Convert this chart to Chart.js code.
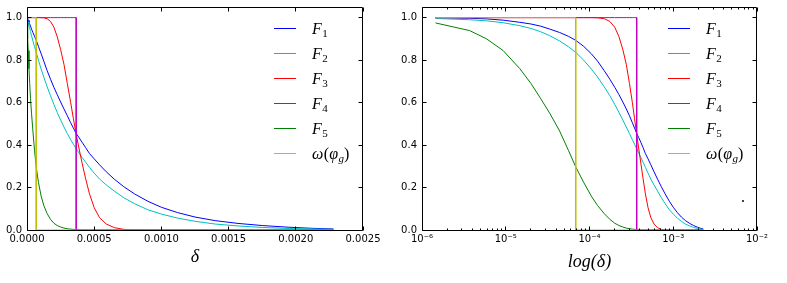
<!DOCTYPE html>
<html><head><meta charset="utf-8">
<script src="https://cdn.jsdelivr.net/npm/chart.js@4/dist/chart.umd.min.js"></script>
<style>
html,body{margin:0;padding:0;background:#fff;width:787px;height:283px;overflow:hidden}
canvas{position:absolute;top:0}
#c1{left:0}
#c2{left:380px}
</style></head><body>
<canvas id="c1" width="380" height="283"></canvas>
<canvas id="c2" width="407" height="283"></canvas>
<script>
// ---- data ----
const delta = [1.45e-6, 3.7e-6, 5.9e-6, 9.3e-6, 1.47e-5, 2.0e-5, 2.6e-5, 3.35e-5, 4.4e-5, 5.6e-5,
  6.85e-5, 6.85e-5, 8.5e-5, 1.05e-4, 1.25e-4, 1.5e-4, 1.75e-4, 2.0e-4, 2.25e-4, 2.5e-4,
  2.75e-4, 3.0e-4, 3.25e-4, 3.45e-4, 3.66e-4, 3.66e-4, 3.85e-4, 4.1e-4, 4.35e-4, 4.65e-4,
  5.0e-4, 5.4e-4, 5.9e-4, 6.5e-4, 7.2e-4, 8.0e-4, 9.0e-4, 1.0e-3, 1.12e-3, 1.25e-3,
  1.4e-3, 1.57e-3, 1.75e-3, 1.95e-3, 2.12e-3, 2.28e-3];
const F1 = [0.999, 0.997, 0.994, 0.988, 0.978, 0.970, 0.960, 0.946, 0.930, 0.912,
  0.893, 0.893, 0.865, 0.830, 0.795, 0.750, 0.710, 0.672, 0.637, 0.603,
  0.570, 0.538, 0.505, 0.480, 0.455, 0.455, 0.437, 0.413, 0.389, 0.360,
  0.335, 0.307, 0.274, 0.239, 0.204, 0.170, 0.135, 0.107, 0.082, 0.061,
  0.044, 0.031, 0.021, 0.013, 0.008, 0.005];
const F2 = [0.996, 0.990, 0.985, 0.976, 0.962, 0.949, 0.934, 0.915, 0.890, 0.863,
  0.836, 0.836, 0.800, 0.758, 0.720, 0.674, 0.632, 0.592, 0.553, 0.518,
  0.485, 0.454, 0.425, 0.404, 0.383, 0.383, 0.364, 0.342, 0.320, 0.295,
  0.268, 0.240, 0.212, 0.183, 0.152, 0.124, 0.095, 0.075, 0.056, 0.041,
  0.028, 0.019, 0.012, 0.007, 0.005, 0.003];
const F3 = [1, 1, 1, 1, 1, 1, 1, 1, 1, 1,
  1, 1, 1, 1, 0.999, 0.995, 0.982, 0.955, 0.910, 0.850,
  0.780, 0.690, 0.600, 0.525, 0.450, 0.450, 0.390, 0.315, 0.245, 0.170,
  0.105, 0.058, 0.028, 0.011, 0.003, 0.001, 0, 0, 0, 0,
  0, 0, 0, 0, 0, 0];
const F4 = [1, 1, 1, 1, 1, 1, 1, 1, 1, 1,
  1, 1, 1, 1, 1, 1, 1, 1, 1, 1,
  1, 1, 1, 1, 1, 0, 0, 0, 0, 0,
  0, 0, 0, 0, 0, 0, 0, 0, 0, 0,
  0, 0, 0, 0, 0, 0];
const F5 = [0.975, 0.939, 0.900, 0.845, 0.760, 0.690, 0.620, 0.550, 0.466, 0.375,
  0.297, 0.297, 0.225, 0.160, 0.115, 0.077, 0.050, 0.032, 0.021, 0.014,
  0.009, 0.006, 0.004, 0.003, 0.002, 0.002, 0.001, 0, 0, 0,
  0, 0, 0, 0, 0, 0, 0, 0, 0, 0,
  0, 0, 0, 0, 0, 0];
const omega = [1, 1, 1, 1, 1, 1, 1, 1, 1, 1,
  1, 0, 0, 0, 0, 0, 0, 0, 0, 0,
  0, 0, 0, 0, 0, 0, 0, 0, 0, 0,
  0, 0, 0, 0, 0, 0, 0, 0, 0, 0,
  0, 0, 0, 0, 0, 0];
const strayX = [6.8e-3];
const strayY = [0.136];

const seriesValues = [F1, F2, F3, F4, F5, omega];
const seriesLabels = ['F_1', 'F_2', 'F_3', 'F_4', 'F_5', 'ω(φ_g)'];
const seriesColors = ['#0000ff', '#00bfbf', '#ff0000', '#bf00bf', '#008000', '#bfbf00'];

const yTicks = [0, 0.2, 0.4, 0.6, 0.8, 1.0];
const linTicks = [0, 0.0005, 0.001, 0.0015, 0.002, 0.0025];
const linTickLabels = ['0.0000', '0.0005', '0.0010', '0.0015', '0.0020', '0.0025'];
const logTicks = [1e-6, 1e-5, 1e-4, 1e-3, 1e-2];
const logTickLabels = ['10⁻⁶', '10⁻⁵', '10⁻⁴', '10⁻³', '10⁻²'];
const linTitle = 'δ';
const logTitle = 'log(δ)';

// ---- rendering ----
Chart.defaults.font.family = "'DejaVu Sans', sans-serif";
Chart.defaults.font.size = 10;
Chart.defaults.color = '#000';
const mathFont = "'Liberation Serif', 'DejaVu Serif', serif";

const logMinor = [];
for (let k = -6; k <= -3; k++) for (let m = 2; m <= 9; m++) logMinor.push(m * Math.pow(10, k));

function drawMath(ctx, text, x, baseline, size) {
  let cx = x;
  for (let i = 0; i < text.length; i++) {
    let ch = text[i];
    let sub = false;
    if (ch === '_') { sub = true; i++; ch = text[i]; }
    const italic = /[A-Za-z\u03b1-\u03c9]/.test(ch);
    const fs = sub ? Math.round(size * 0.7) : size;
    ctx.font = (italic ? 'italic ' : '') + fs + 'px ' + mathFont;
    ctx.fillText(ch, cx, baseline + (sub ? size * 0.18 : 0));
    cx += ctx.measureText(ch).width + (italic && !sub ? 0.5 : 0);
  }
}

const boxPlugin = {
  id: 'box',
  afterDatasetsDraw(chart, args, opts) {
    const {ctx, chartArea: a} = chart;
    const xs = chart.scales.x, ys = chart.scales.y;
    const L = a.left + 0.5, R = a.right - 0.5, T = a.top + 0.5, B = a.bottom + 0.5;
    ctx.save();
    ctx.strokeStyle = '#000';
    ctx.lineWidth = 1;
    ctx.beginPath();
    const vt = (v, len) => {
      const p = Math.floor(xs.getPixelForValue(v)) + 0.5;
      ctx.moveTo(p, B); ctx.lineTo(p, B - len);
      ctx.moveTo(p, T); ctx.lineTo(p, T + len);
    };
    xs.ticks.forEach(t => vt(t.value, 4));
    (opts.minor || []).forEach(v => vt(v, 2));
    ys.ticks.forEach(t => {
      const p = Math.floor(ys.getPixelForValue(t.value)) + 0.5;
      ctx.moveTo(L, p); ctx.lineTo(L + 4, p);
      ctx.moveTo(R, p); ctx.lineTo(R - 4, p);
    });
    ctx.stroke();
    ctx.beginPath();
    ctx.rect(L, T, R - L, B - T);
    ctx.stroke();
    ctx.restore();
  }
};

const legendPlugin = {
  id: 'mathLegend',
  afterDraw(chart) {
    const {ctx, chartArea: a} = chart;
    ctx.save();
    ctx.textBaseline = 'alphabetic';
    ctx.fillStyle = '#000';
    let row = 0;
    chart.data.datasets.forEach(ds => {
      if (!ds.mathLabel) return;
      const y = a.top + 21.3 + 25 * row;
      const ly = Math.floor(y) + 0.5;
      ctx.strokeStyle = ds.borderColor;
      ctx.lineWidth = 1;
      ctx.beginPath();
      ctx.moveTo(a.right - 89, ly);
      ctx.lineTo(a.right - 67, ly);
      ctx.stroke();
      drawMath(ctx, ds.mathLabel, a.right - 51, y + 5.7, 16);
      row++;
    });
    ctx.restore();
  }
};

function buildDatasets(withStray) {
  const ds = seriesValues.map((vals, i) => ({
    label: seriesLabels[i],
    mathLabel: seriesLabels[i],
    data: delta.map((d, j) => ({x: d, y: vals[j]})),
    borderColor: seriesColors[i],
    backgroundColor: seriesColors[i],
    borderWidth: 1,
    pointRadius: 0,
    tension: 0,
    fill: false,
    order: seriesValues.length - i + 1
  }));
  if (withStray) {
    ds.push({
      type: 'scatter',
      label: 'point',
      data: strayX.map((x, j) => ({x, y: strayY[j]})),
      showLine: false,
      pointRadius: 1,
      borderWidth: 0,
      backgroundColor: '#000',
      borderColor: '#000',
      order: 0
    });
  }
  return ds;
}

function makeChart(id, xcfg, yWidth, padRight, title, titlePad, minor, withStray) {
  return new Chart(document.getElementById(id), {
    type: 'line',
    data: {datasets: buildDatasets(withStray)},
    options: {
      responsive: false,
      animation: false,
      devicePixelRatio: 1,
      layout: {padding: {left: 0, top: 7, right: padRight, bottom: 0}},
      plugins: {legend: {display: false}, tooltip: {enabled: false}, box: {minor}},
      scales: {
        x: Object.assign({
          grid: {display: false, drawTicks: false},
          border: {display: false},
          title: {display: true, text: title, color: '#000',
            font: {family: mathFont, size: 18, style: 'italic'},
            padding: {top: 0, bottom: titlePad}},
          afterFit(s) { s.height = 53; s.paddingLeft = 0; s.paddingRight = 0; }
        }, xcfg),
        y: {
          type: 'linear', min: 0, max: 1.05,
          grid: {display: false, drawTicks: false},
          border: {display: false},
          ticks: {padding: 5, callback: v => v.toFixed(1)},
          afterBuildTicks(s) { s.ticks = yTicks.map(v => ({value: v})); },
          afterFit(s) { s.width = yWidth; s.paddingTop = 0; s.paddingBottom = 0; }
        }
      }
    },
    plugins: [boxPlugin, legendPlugin]
  });
}

makeChart('c1', {
  type: 'linear', min: 0, max: 0.0025,
  ticks: {padding: 3, maxRotation: 0, callback: (v, i) => linTickLabels[i]},
  afterBuildTicks(s) { s.ticks = linTicks.map(v => ({value: v})); }
}, 27, 17, linTitle, 15, [], false);

makeChart('c2', {
  type: 'logarithmic', min: 1e-6, max: 1e-2,
  ticks: {padding: 3, maxRotation: 0, callback: (v, i) => logTickLabels[i]},
  afterBuildTicks(s) { s.ticks = logTicks.map(v => ({value: v})); }
}, 42, 30, logTitle, 10, logMinor, true);
</script>
</body></html>
